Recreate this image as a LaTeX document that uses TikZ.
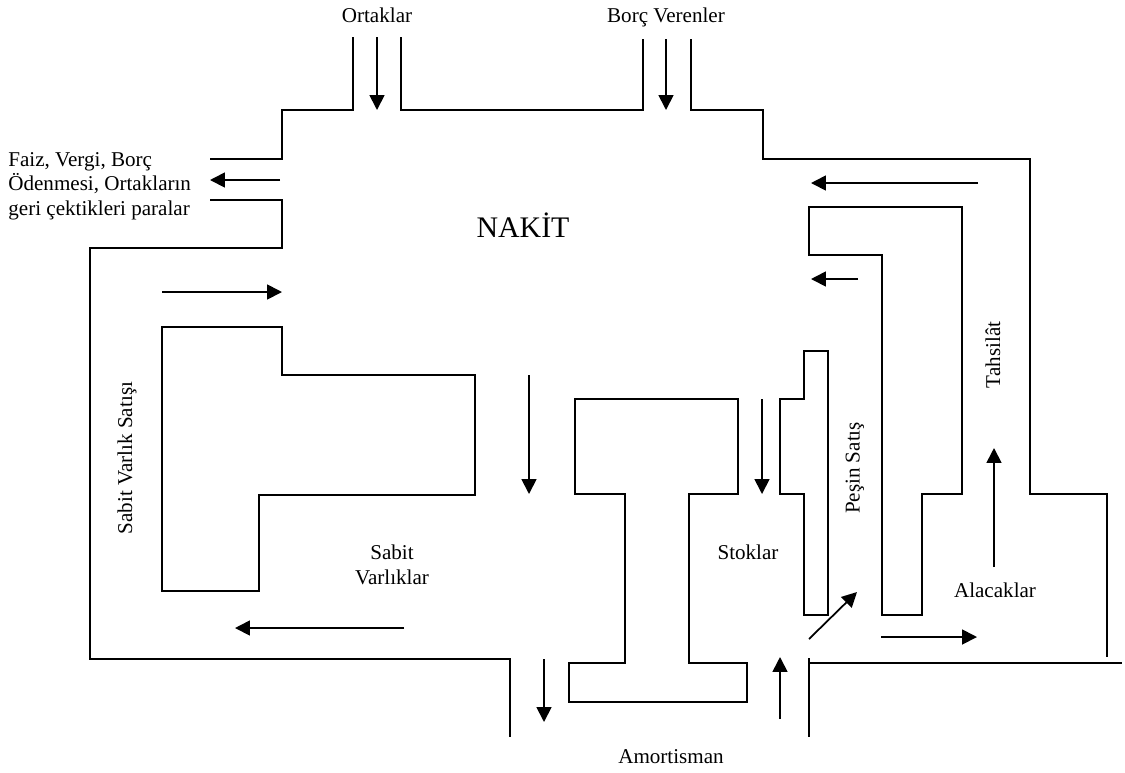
\documentclass[tikz,border=0pt]{standalone}
\usepackage{fontspec}
\setmainfont{Liberation Serif}
\usetikzlibrary{arrows.meta}

\begin{document}
\begin{tikzpicture}[x=0.02cm,y=-0.02cm,line join=miter,
  wall/.style={line width=1pt},
  flow/.style={line width=1pt,-{Triangle[length=8.5pt,width=8.5pt]}},
  lbl/.style={font=\fontsize{12}{14}\selectfont,inner sep=0pt}]
  \useasboundingbox (0,0) rectangle (1125,772);
  % outer cash outline
  \draw[wall] (353,37) -- (353,110) -- (282,110) -- (282,159) -- (210,159);
  \draw[wall] (210,200) -- (282,200) -- (282,248) -- (90,248) -- (90,659) -- (510,659) -- (510,737);
  \draw[wall] (401,37) -- (401,110) -- (643,110) -- (643,39);
  \draw[wall] (691,39) -- (691,110) -- (763,110) -- (763,159) -- (1030,159) -- (1030,494) -- (1107,494) -- (1107,657);
  \draw[wall] (809,658) -- (809,737);
  \draw[wall] (809,663) -- (1122,663);
  % inner blocks
  \draw[wall] (162,327) -- (282,327) -- (282,375) -- (475,375) -- (475,495) -- (259,495) -- (259,591) -- (162,591) -- cycle;
  \draw[wall] (575,399) -- (738,399) -- (738,494) -- (689,494) -- (689,663) -- (747,663) -- (747,702) -- (569,702) -- (569,663) -- (625,663) -- (625,494) -- (575,494) -- cycle;
  \draw[wall] (804,351) -- (828,351) -- (828,615) -- (804,615) -- (804,494) -- (780,494) -- (780,399) -- (804,399) -- cycle;
  \draw[wall] (809,207) -- (962,207) -- (962,494) -- (922,494) -- (922,615) -- (882,615) -- (882,255) -- (809,255) -- cycle;
  % flows
  \draw[flow] (377,37) -- (377,110);
  \draw[flow] (666,39) -- (666,110);
  \draw[flow] (280,180) -- (210,180);
  \draw[flow] (978,183) -- (811,183);
  \draw[flow] (858,279) -- (811,279);
  \draw[flow] (162,292) -- (282,292);
  \draw[flow] (529,375) -- (529,494);
  \draw[flow] (762,399) -- (762,494);
  \draw[flow] (994,567) -- (994,448);
  \draw[flow] (809,639) -- (857,592);
  \draw[flow] (881,637) -- (977,637);
  \draw[flow] (404,628) -- (235,628);
  \draw[flow] (544,659) -- (544,722);
  \draw[flow] (780,719) -- (780,657);
  % labels
  \node[lbl] (ortaklar) at (377,15) {Ortaklar};
  \node[lbl] (borc) at (666,17) {Borç Verenler};
  \node[lbl,align=left,anchor=west] (odeme) at (8,186) {Faiz, Vergi, Borç\\Ödenmesi, Ortakların\\geri çektikleri paralar};
  \node[font=\fontsize{17}{20}\selectfont,inner sep=0pt] (nakit) at (523,225) {NAKİT};
  \node[lbl,rotate=90] (satis) at (127,458) {Sabit Varlık Satışı};
  \node[lbl,align=center] (sabit) at (392,565) {Sabit\\Varlıklar};
  \node[lbl] (stoklar) at (748,552) {Stoklar};
  \node[lbl,rotate=90] (pesin) at (855,468) {Peşin Satış};
  \node[lbl,rotate=90] (tahsilat) at (993,355) {Tahsilât};
  \node[lbl] (alacak) at (995,590) {Alacaklar};
  \node[lbl] (amort) at (671,757) {Amortisman};
\end{tikzpicture}
\end{document}
